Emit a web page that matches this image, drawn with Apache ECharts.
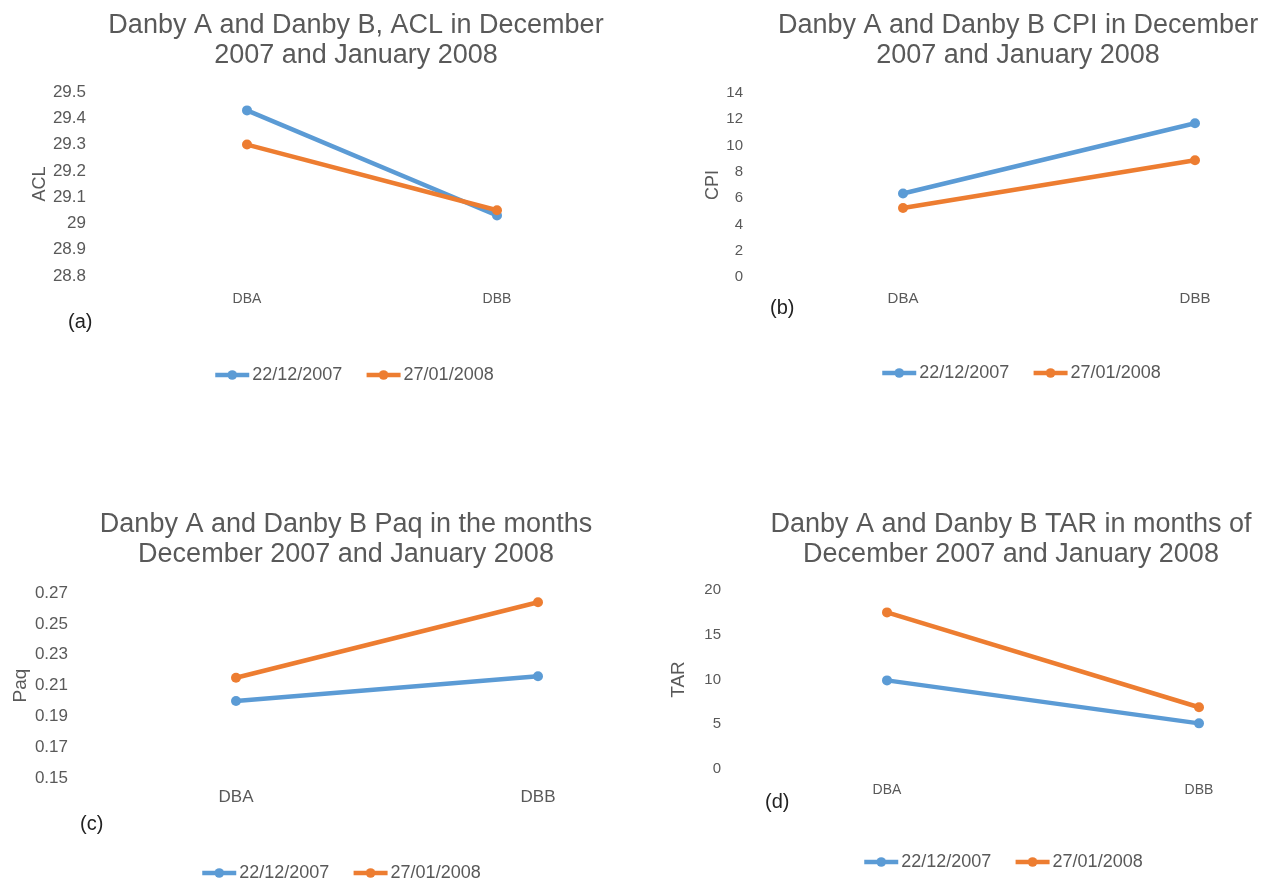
<!DOCTYPE html>
<html><head><meta charset="utf-8">
<script src="https://cdn.jsdelivr.net/npm/echarts@6/dist/echarts.min.js"></script>
<style>html,body{margin:0;padding:0;background:#fff}#c{width:1269px;height:881px}</style>
</head><body><div id="c"></div>
<script>
const categories = ['DBA', 'DBB'];
const seriesNames = ['22/12/2007', '27/01/2008'];
const aclDec = [29.43, 29.03];
const aclJan = [29.30, 29.05];
const cpiDec = [6.35, 11.7];
const cpiJan = [5.25, 8.88];
const paqDec = [0.200, 0.216];
const paqJan = [0.215, 0.264];
const tarDec = [9.9, 5.1];
const tarJan = [17.5, 6.9];
const titles = [
  'Danby A and Danby B, ACL in December\n2007 and January 2008',
  'Danby A and Danby B CPI in December\n2007 and January 2008',
  'Danby A and Danby B Paq in the months\nDecember 2007 and January 2008',
  'Danby A and Danby B TAR in months of\nDecember 2007 and January 2008'
];
const axisNames = ['ACL', 'CPI', 'Paq', 'TAR'];
const panelTags = ['(a)', '(b)', '(c)', '(d)'];

const BLUE = '#5B9BD5', ORANGE = '#ED7D31', GREY = '#595959';
const FONT = '"Liberation Sans", Arial, sans-serif';

const panels = [
  {grid:{left:247,top:92,width:250,height:184}, y:{min:28.8,max:29.5,interval:0.1}, tick:17, lblMargin:161, cat:14, catMargin:16, nameGap:196, nameSize:18,
   title:{x:356,y:11}, tag:{x:68,y:312}, legend:{x:213,y:366}, data:[aclDec, aclJan]},
  {grid:{left:903,top:93,width:292,height:184}, y:{min:0,max:14,interval:2}, tick:15, lblMargin:160, cat:15, catMargin:14, nameGap:181, nameSize:18,
   title:{x:1018,y:11}, tag:{x:770,y:298}, legend:{x:880,y:364}, data:[cpiDec, cpiJan]},
  {grid:{left:236,top:593,width:302,height:185}, y:{min:0.15,max:0.27,interval:0.02}, tick:17, lblMargin:168, cat:17, catMargin:11, nameGap:206, nameSize:19,
   title:{x:346,y:510}, tag:{x:80,y:814}, legend:{x:200,y:864}, data:[paqDec, paqJan]},
  {grid:{left:887,top:590,width:312,height:179}, y:{min:0,max:20,interval:5}, tick:15, lblMargin:166, cat:14, catMargin:14, nameGap:199, nameSize:19,
   title:{x:1011,y:510}, tag:{x:765,y:792}, legend:{x:862,y:853}, data:[tarDec, tarJan]}
];

const option = {
  backgroundColor: '#fff',
  animation: false,
  textStyle: {fontFamily: FONT},
  title: panels.map((p, i) => ({
    text: titles[i], left: p.title.x, top: p.title.y, textAlign: 'center', padding: 0,
    textStyle: {fontFamily: FONT, fontSize: 27, fontWeight: 'normal', color: GREY, lineHeight: 30}
  })),
  grid: panels.map(p => Object.assign({outerBoundsMode: 'none', containLabel: false}, p.grid)),
  xAxis: panels.map((p, i) => ({
    type: 'category', gridIndex: i, data: categories, boundaryGap: false,
    axisLine: {show: false}, axisTick: {show: false}, splitLine: {show: false},
    axisLabel: {color: GREY, fontSize: p.cat, margin: p.catMargin, fontFamily: FONT}
  })),
  yAxis: panels.map((p, i) => ({
    type: 'value', gridIndex: i, min: p.y.min, max: p.y.max, interval: p.y.interval,
    name: axisNames[i], nameLocation: 'middle', nameGap: p.nameGap,
    nameTextStyle: {color: GREY, fontSize: p.nameSize, fontFamily: FONT},
    axisLine: {show: false}, axisTick: {show: false}, splitLine: {show: false},
    axisLabel: {color: GREY, fontSize: p.tick, margin: p.lblMargin, fontFamily: FONT}
  })),
  legend: panels.map(p => ({
    left: p.legend.x, top: p.legend.y, orient: 'horizontal', padding: 0,
    itemWidth: 34, itemHeight: 12, itemGap: 22,
    lineStyle: {width: 4.5},
    data: seriesNames,
    textStyle: {color: GREY, fontSize: 18, fontFamily: FONT, padding: [0, 0, 0, -2]}
  })),
  series: panels.flatMap((p, i) => [
    {name: seriesNames[0], type: 'line', xAxisIndex: i, yAxisIndex: i, data: p.data[0],
     symbol: 'circle', symbolSize: 10, lineStyle: {width: 4.5, color: BLUE}, itemStyle: {color: BLUE}},
    {name: seriesNames[1], type: 'line', xAxisIndex: i, yAxisIndex: i, data: p.data[1],
     symbol: 'circle', symbolSize: 10, lineStyle: {width: 4.5, color: ORANGE}, itemStyle: {color: ORANGE}}
  ]),
  graphic: panels.map((p, i) => ({
    type: 'text', left: p.tag.x, top: p.tag.y,
    style: {text: panelTags[i], fill: '#222', font: '20px ' + FONT}
  }))
};
const chart = echarts.init(document.getElementById('c'), null, {renderer: 'canvas'});
chart.setOption(option);
</script></body></html>
